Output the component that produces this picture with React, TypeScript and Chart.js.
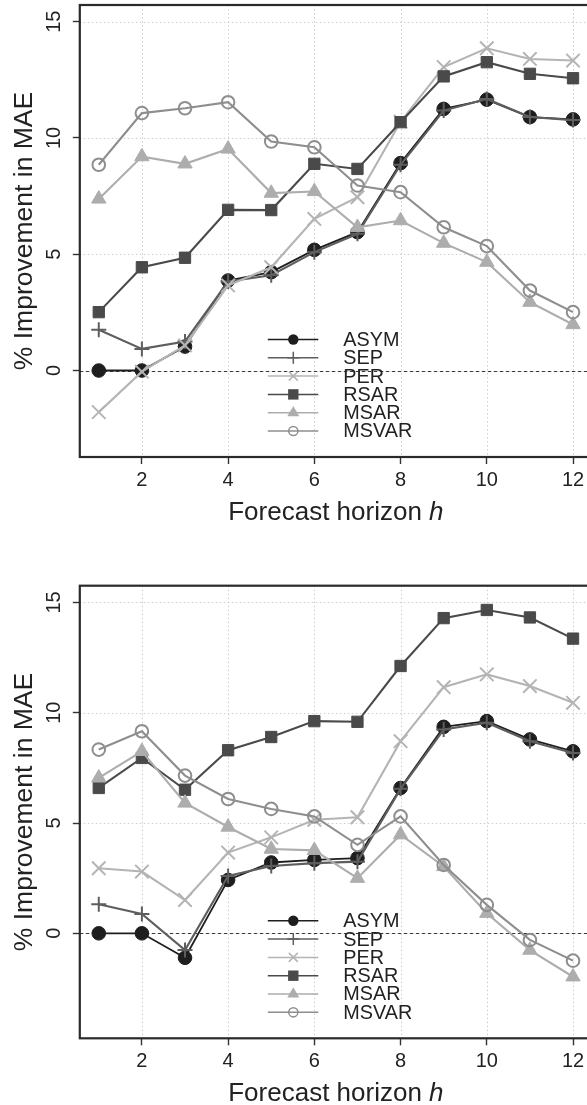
import React, { useEffect, useRef } from "react";
import { Chart, registerables } from "chart.js";

Chart.register(...registerables);

// ---------- data ----------
const horizons = [1, 2, 3, 4, 5, 6, 7, 8, 9, 10, 11, 12];
const xTickValues = [2, 4, 6, 8, 10, 12];
const yTickValues = [0, 5, 10, 15];
const seriesNames = ["ASYM", "SEP", "PER", "RSAR", "MSAR", "MSVAR"];

// upper panel
const asymTop = [0, 0, 1.03, 3.87, 4.23, 5.19, 5.95, 8.92, 11.25, 11.65, 10.9, 10.8];
const sepTop = [1.75, 0.93, 1.25, 3.83, 4.1, 5.09, 5.88, 8.85, 11.18, 11.68, 10.9, 10.77];
const perTop = [-1.79, -0.05, 1.08, 3.66, 4.44, 6.52, 7.45, 10.7, 13.05, 13.86, 13.4, 13.33];
const rsarTop = [2.51, 4.44, 4.85, 6.91, 6.9, 8.89, 8.67, 10.68, 12.65, 13.26, 12.76, 12.57];
const msarTop = [7.38, 9.2, 8.89, 9.53, 7.63, 7.7, 6.16, 6.45, 5.48, 4.66, 2.94, 1.98];
const msvarTop = [8.85, 11.07, 11.28, 11.54, 9.85, 9.6, 7.96, 7.67, 6.16, 5.35, 3.44, 2.51];

// lower panel
const asymBottom = [0, 0, -1.11, 2.42, 3.21, 3.33, 3.41, 6.59, 9.36, 9.62, 8.79, 8.25];
const sepBottom = [1.32, 0.88, -0.76, 2.6, 3.05, 3.18, 3.25, 6.55, 9.24, 9.55, 8.71, 8.18];
const perBottom = [2.95, 2.8, 1.51, 3.66, 4.35, 5.15, 5.26, 8.71, 11.16, 11.74, 11.21, 10.45];
const rsarBottom = [6.59, 7.95, 6.51, 8.3, 8.9, 9.62, 9.59, 12.12, 14.29, 14.66, 14.32, 13.36];
const msarBottom = [7.05, 8.25, 5.91, 4.82, 3.82, 3.76, 2.5, 4.47, 3.03, 0.91, -0.76, -1.97];
const msvarBottom = [8.33, 9.16, 7.15, 6.09, 5.64, 5.3, 4.01, 5.3, 3.1, 1.29, -0.3, -1.24];

const yLimTop = [-3, 15];
const yLimBottom = [-4, 15];
const xLim = [1, 12];

// ---------- styles ----------
const FONT = "'Liberation Sans', Arial, Helvetica, sans-serif";
const TEXT = "#222222";
const COLORS = ["#1e1e1e", "#5e5e5e", "#b4b4b4", "#4a4a4a", "#adadad", "#8e8e8e"];
const POINT_STYLES = ["circle", "cross", "crossRot", "rect", "triangle", "circle"];
const POINT_RADII = [6.8, 7.5, 9.5, 8, 8.3, 6.3];
const FILLED = [true, false, false, true, true, false];

function extend(lim: number[]) {
  const r = lim[1] - lim[0];
  return [lim[0] - 0.04 * r, lim[1] + 0.04 * r];
}

function drawMarker(ctx: CanvasRenderingContext2D, i: number, x: number, y: number) {
  const c = COLORS[i];
  ctx.save();
  ctx.setLineDash([]);
  ctx.strokeStyle = c;
  ctx.fillStyle = c;
  ctx.lineWidth = 1.5;
  const s = POINT_STYLES[i];
  ctx.beginPath();
  if (s === "circle") {
    const r = i === 0 ? 5.2 : 4.6;
    ctx.arc(x, y, r, 0, Math.PI * 2);
    if (FILLED[i]) ctx.fill();
    else ctx.stroke();
  } else if (s === "cross") {
    ctx.moveTo(x - 6, y);
    ctx.lineTo(x + 6, y);
    ctx.moveTo(x, y - 6);
    ctx.lineTo(x, y + 6);
    ctx.stroke();
  } else if (s === "crossRot") {
    ctx.moveTo(x - 4.5, y - 4.5);
    ctx.lineTo(x + 4.5, y + 4.5);
    ctx.moveTo(x + 4.5, y - 4.5);
    ctx.lineTo(x - 4.5, y + 4.5);
    ctx.stroke();
  } else if (s === "rect") {
    ctx.rect(x - 5.2, y - 5.2, 10.4, 10.4);
    ctx.fill();
  } else if (s === "triangle") {
    ctx.moveTo(x, y - 6.8);
    ctx.lineTo(x + 6, y + 3.6);
    ctx.lineTo(x - 6, y + 3.6);
    ctx.closePath();
    ctx.fill();
  }
  ctx.restore();
}

function makeDecorPlugin() {
  return {
    id: "decor",
    beforeDatasetsDraw(chart: any) {
      const { ctx, chartArea: a, scales } = chart;
      const xs = scales.x;
      const ys = scales.y;
      ctx.save();
      ctx.lineWidth = 1;
      ctx.strokeStyle = "#cdcdcd";
      ctx.setLineDash([1.5, 2.5]);
      for (const v of xTickValues) {
        const px = Math.round(xs.getPixelForValue(v)) + 0.5;
        ctx.beginPath();
        ctx.moveTo(px, a.top);
        ctx.lineTo(px, a.bottom);
        ctx.stroke();
      }
      for (const v of yTickValues) {
        if (v === 0) continue;
        const py = Math.round(ys.getPixelForValue(v)) + 0.5;
        ctx.beginPath();
        ctx.moveTo(a.left, py);
        ctx.lineTo(a.right, py);
        ctx.stroke();
      }
      const p0 = Math.round(ys.getPixelForValue(0)) + 0.5;
      ctx.strokeStyle = "#3a3a3a";
      ctx.setLineDash([3.5, 2.5]);
      ctx.beginPath();
      ctx.moveTo(a.left, p0);
      ctx.lineTo(a.right, p0);
      ctx.stroke();
      ctx.restore();
    },
    afterDraw(chart: any) {
      const { ctx, chartArea: a } = chart;
      ctx.save();
      // box
      ctx.setLineDash([]);
      ctx.strokeStyle = "#2a2a2a";
      ctx.lineWidth = 2.2;
      ctx.strokeRect(a.left, a.top, a.right - a.left, a.bottom - a.top);

      // legend
      const rowH = 18.3;
      const lx0 = a.left + 188;
      const lx1 = a.left + 238.5;
      const mx = a.left + 213.5;
      const tx = a.left + 263.5;
      ctx.font = `19.8px ${FONT}`;
      ctx.textBaseline = "middle";
      ctx.textAlign = "left";
      seriesNames.forEach((name, i) => {
        const yy = a.bottom - 26 - (seriesNames.length - 1 - i) * rowH;
        ctx.strokeStyle = COLORS[i];
        ctx.lineWidth = 1.5;
        ctx.beginPath();
        ctx.moveTo(lx0, yy);
        ctx.lineTo(lx1, yy);
        ctx.stroke();
        drawMarker(ctx, i, mx, yy);
        ctx.fillStyle = TEXT;
        ctx.fillText(name, tx, yy + 1);
      });

      // x title with italic h
      const cx = (a.left + a.right) / 2;
      const base = a.bottom + 62.5;
      const part1 = "Forecast horizon ";
      const part2 = "h";
      ctx.font = `26px ${FONT}`;
      const w1 = ctx.measureText(part1).width;
      ctx.font = `italic 26px ${FONT}`;
      const w2 = ctx.measureText(part2).width;
      const start = cx - (w1 + w2) / 2;
      ctx.fillStyle = TEXT;
      ctx.textBaseline = "alphabetic";
      ctx.textAlign = "left";
      ctx.font = `26px ${FONT}`;
      ctx.fillText(part1, start, base);
      ctx.font = `italic 26px ${FONT}`;
      ctx.fillText(part2, start + w1, base);

      // y title
      ctx.font = `26.5px ${FONT}`;
      ctx.textAlign = "center";
      ctx.translate(31.7, (a.top + a.bottom) / 2);
      ctx.rotate(-Math.PI / 2);
      ctx.fillText("% Improvement in MAE", 0, 0);
      ctx.restore();
    },
  };
}

type PanelProps = {
  series: number[][];
  yLim: number[];
  height: number;
  padTop: number;
  axisH: number;
};

function Panel({ series, yLim, height, padTop, axisH }: PanelProps) {
  const ref = useRef<HTMLCanvasElement | null>(null);
  useEffect(() => {
    const canvas = ref.current;
    if (!canvas) return;
    const [ymin, ymax] = extend(yLim);
    const [xmin, xmax] = extend(xLim);
    const datasets = series.map((vals, i) => ({
      label: seriesNames[i],
      data: horizons.map((h, k) => ({ x: h, y: vals[k] })),
      borderColor: COLORS[i],
      backgroundColor: FILLED[i] ? COLORS[i] : "rgba(0,0,0,0)",
      pointBackgroundColor: FILLED[i] ? COLORS[i] : "rgba(0,0,0,0)",
      pointBorderColor: COLORS[i],
      pointStyle: POINT_STYLES[i],
      pointRadius: POINT_RADII[i],
      pointBorderWidth: FILLED[i] ? 1 : 2,
      borderWidth: i === 0 ? 1.8 : 2.1,
      tension: 0,
      fill: false,
      order: series.length - 1 - i,
    }));
    const tickFont = { family: FONT, size: 20 };
    const chart = new Chart(canvas, {
      type: "line",
      data: { datasets },
      plugins: [makeDecorPlugin()],
      options: {
        responsive: false,
        animation: false,
        devicePixelRatio: 1,
        layout: { autoPadding: false, padding: { left: 0, right: 8, top: padTop, bottom: 0 } },
        plugins: { legend: { display: false }, tooltip: { enabled: false } },
        scales: {
          x: {
            type: "linear",
            min: xmin,
            max: xmax,
            afterBuildTicks: (s: any) => {
              s.ticks = xTickValues.map((v) => ({ value: v }));
            },
            afterFit: (s: any) => {
              s.height = axisH;
              s.paddingLeft = 0;
              s.paddingRight = 0;
            },
            grid: {
              drawOnChartArea: false,
              drawTicks: true,
              tickLength: 7,
              tickColor: "#333333",
              tickWidth: 1.4,
            },
            border: { display: false },
            ticks: {
              font: tickFont,
              color: TEXT,
              padding: 4,
              maxRotation: 0,
              minRotation: 0,
              autoSkip: false,
            },
          },
          y: {
            type: "linear",
            min: ymin,
            max: ymax,
            afterBuildTicks: (s: any) => {
              s.ticks = yTickValues.map((v) => ({ value: v }));
            },
            afterFit: (s: any) => {
              s.width = 79.8;
              s.paddingTop = 0;
              s.paddingBottom = 0;
            },
            grid: {
              drawOnChartArea: false,
              drawTicks: true,
              tickLength: 7,
              tickColor: "#333333",
              tickWidth: 1.4,
            },
            border: { display: false },
            ticks: {
              font: tickFont,
              color: TEXT,
              padding: 7.5,
              minRotation: 90,
              maxRotation: 90,
              crossAlign: "center",
              autoSkip: false,
            },
          },
        },
      },
    } as any);
    return () => chart.destroy();
  }, [series, yLim, height, padTop, axisH]);
  return (
    <canvas
      ref={ref}
      width={600}
      height={height}
      style={{ display: "block", width: 600, height }}
    />
  );
}

const topSeries = [asymTop, sepTop, perTop, rsarTop, msarTop, msvarTop];
const bottomSeries = [asymBottom, sepBottom, perBottom, rsarBottom, msarBottom, msvarBottom];

export default function App() {
  return (
    <div
      style={{
        position: "absolute",
        left: 0,
        top: 0,
        width: 587,
        height: 1105,
        overflow: "hidden",
        background: "#ffffff",
      }}
    >
      <div style={{ position: "absolute", left: 0, top: 0 }}>
        <Panel series={topSeries} yLim={yLimTop} height={552} padTop={5} axisH={95} />
      </div>
      <div style={{ position: "absolute", left: 0, top: 552 }}>
        <Panel series={bottomSeries} yLim={yLimBottom} height={553} padTop={33.7} axisH={66.7} />
      </div>
    </div>
  );
}
